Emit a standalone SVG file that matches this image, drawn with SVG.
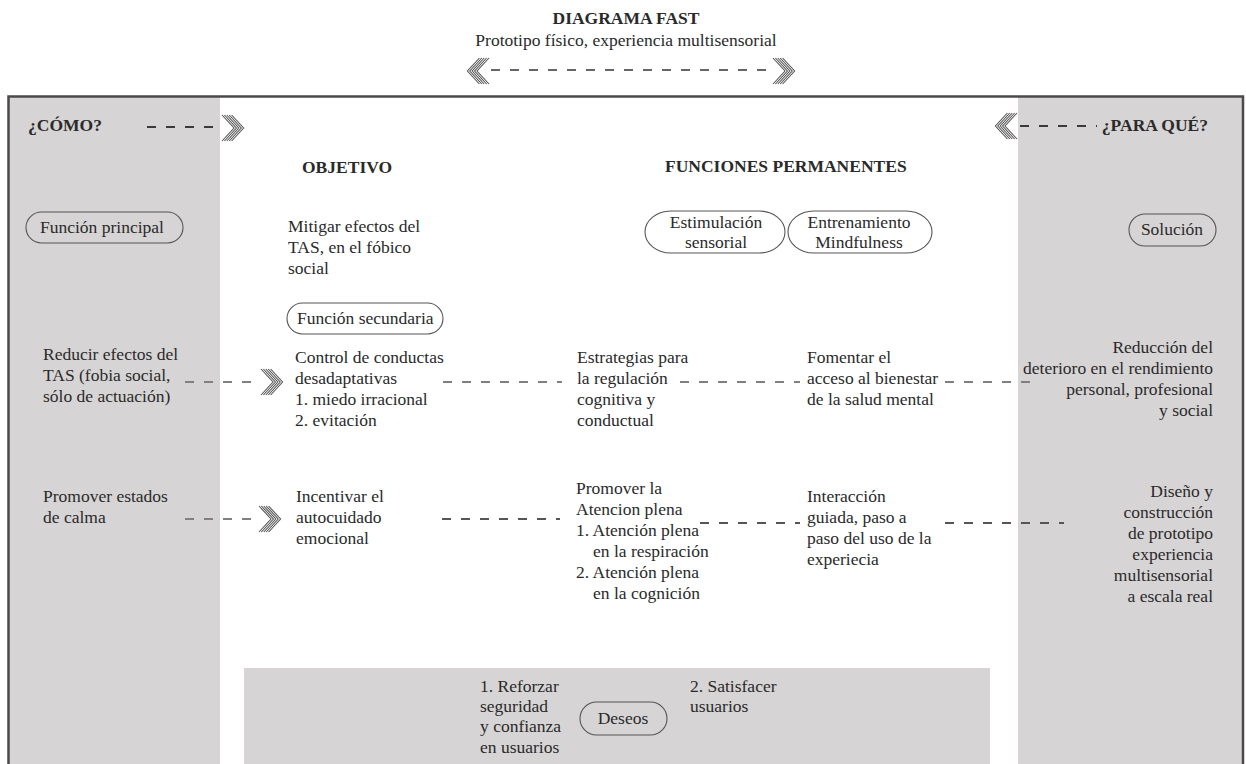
<svg xmlns="http://www.w3.org/2000/svg" width="1246" height="764" viewBox="0 0 1246 764">
<style>
.t{font-family:"Liberation Serif","Times New Roman",serif;font-size:17.5px;fill:#2a2a2a}
.b{font-weight:bold}
.e{text-anchor:end}
.m{text-anchor:middle}
.pill{fill:none;stroke:#555;stroke-width:1.1}
.panel{fill:#d7d4d5}
.dash{stroke:#808080;stroke-width:2;stroke-dasharray:9 10;fill:none}
.dashd{stroke:#3a3a3a;stroke-width:2;stroke-dasharray:9 10;fill:none}
.chev polyline{fill:none;stroke:#555;stroke-width:1.1}
</style>
<defs>
<g id="chevR" class="chev">
<polyline points="0,-13 12,0 0,13"/>
<polyline points="2.4,-13 14.4,0 2.4,13"/>
<polyline points="4.8,-13 16.8,0 4.8,13"/>
<polyline points="7.2,-13 19.2,0 7.2,13"/>
<polyline points="9.6,-13 21.6,0 9.6,13"/>
</g>
</defs>
<rect width="1246" height="764" fill="#ffffff"/>

<g id="header">
<text class="t b m" x="626" y="24">DIAGRAMA FAST</text>
<text class="t m" x="626" y="46">Prototipo físico, experiencia multisensorial</text>
</g>

<g id="frame">
<rect class="panel" x="9" y="96" width="211" height="668"/>
<rect class="panel" x="1018" y="96" width="225" height="668"/>
<rect class="panel" x="244" y="668" width="746" height="96"/>
<path d="M8.5,764 V96.5 H1243 V764" fill="none" stroke="#4a4a4a" stroke-width="2.5"/>
</g>

<g id="connectors">
<line class="dash" x1="491" y1="70" x2="771" y2="70" style="stroke:#666"/>
<use href="#chevR" transform="translate(489,71) scale(-1,1)"/>
<use href="#chevR" transform="translate(773,71)"/>
<line class="dashd" x1="147" y1="127" x2="222" y2="127"/>
<use href="#chevR" transform="translate(222,128)"/>
<line class="dashd" x1="1020" y1="126" x2="1097" y2="126"/>
<use href="#chevR" transform="translate(1017,126) scale(-1,1)"/>
<line class="dash" x1="185" y1="382" x2="258" y2="382"/>
<use href="#chevR" transform="translate(261,382)"/>
<line class="dash" x1="443" y1="382" x2="562" y2="382"/>
<line class="dash" x1="680" y1="382" x2="800" y2="382"/>
<line class="dash" x1="945" y1="382" x2="1040" y2="382"/>
<line class="dash" x1="185" y1="519" x2="256" y2="519"/>
<use href="#chevR" transform="translate(259,519)"/>
<line class="dash" x1="442" y1="519" x2="560" y2="519" style="stroke:#555"/>
<line class="dash" x1="700" y1="523" x2="800" y2="523" style="stroke:#555"/>
<line class="dash" x1="945" y1="523" x2="1064" y2="523" style="stroke:#555"/>
</g>

<g id="como"><text class="t b" x="28" y="131">¿CÓMO?</text></g>
<g id="paraque"><text class="t b e" x="1208" y="131">¿PARA QUÉ?</text></g>
<g id="objetivo"><text class="t b" x="302" y="173">OBJETIVO</text></g>
<g id="funciones-permanentes"><text class="t b" x="665" y="172">FUNCIONES PERMANENTES</text></g>

<g id="funcion-principal">
<rect class="pill" x="26" y="212" width="157" height="31" rx="15.5"/>
<text class="t" x="40" y="233">Función principal</text>
</g>
<g id="mitigar">
<text class="t" x="288" y="232">Mitigar efectos del</text>
<text class="t" x="288" y="253">TAS, en el fóbico</text>
<text class="t" x="288" y="274">social</text>
</g>
<g id="estimulacion">
<rect class="pill" x="645" y="211" width="140" height="42" rx="26" ry="21"/>
<text class="t m" x="716" y="228">Estimulación</text>
<text class="t m" x="716" y="248">sensorial</text>
</g>
<g id="entrenamiento">
<rect class="pill" x="788" y="211" width="144" height="42" rx="26" ry="21"/>
<text class="t m" x="859" y="228">Entrenamiento</text>
<text class="t m" x="859" y="248">Mindfulness</text>
</g>
<g id="solucion">
<rect class="pill" x="1129" y="214" width="87" height="32" rx="16"/>
<text class="t m" x="1172" y="235">Solución</text>
</g>
<g id="funcion-secundaria">
<rect class="pill" x="287" y="303" width="156" height="31" rx="15.5"/>
<text class="t" x="297" y="324">Función secundaria</text>
</g>

<g id="reducir">
<text class="t" x="43" y="360">Reducir efectos del</text>
<text class="t" x="43" y="381">TAS (fobia social,</text>
<text class="t" x="43" y="402">sólo de actuación)</text>
</g>
<g id="control">
<text class="t" x="295" y="363">Control de conductas</text>
<text class="t" x="295" y="384">desadaptativas</text>
<text class="t" x="295" y="405">1. miedo irracional</text>
<text class="t" x="295" y="426">2. evitación</text>
</g>
<g id="estrategias">
<text class="t" x="577" y="363">Estrategias para</text>
<text class="t" x="577" y="384">la regulación</text>
<text class="t" x="577" y="405">cognitiva y</text>
<text class="t" x="577" y="426">conductual</text>
</g>
<g id="fomentar">
<text class="t" x="807" y="363">Fomentar el</text>
<text class="t" x="807" y="384">acceso al bienestar</text>
<text class="t" x="807" y="405">de la salud mental</text>
</g>
<g id="reduccion">
<text class="t e" x="1213" y="353">Reducción del</text>
<text class="t e" x="1213" y="374">deterioro en el rendimiento</text>
<text class="t e" x="1213" y="395">personal, profesional</text>
<text class="t e" x="1213" y="416">y social</text>
</g>

<g id="promover-calma">
<text class="t" x="43" y="502">Promover estados</text>
<text class="t" x="43" y="523">de calma</text>
</g>
<g id="incentivar">
<text class="t" x="296" y="502">Incentivar el</text>
<text class="t" x="296" y="523">autocuidado</text>
<text class="t" x="296" y="544">emocional</text>
</g>
<g id="atencion">
<text class="t" x="576" y="494">Promover la</text>
<text class="t" x="576" y="515">Atencion plena</text>
<text class="t" x="576" y="536">1. Atención plena</text>
<text class="t" x="593" y="557">en la respiración</text>
<text class="t" x="576" y="578">2. Atención plena</text>
<text class="t" x="593" y="599">en la cognición</text>
</g>
<g id="interaccion">
<text class="t" x="807" y="502">Interacción</text>
<text class="t" x="807" y="523">guiada, paso a</text>
<text class="t" x="807" y="544">paso del uso de la</text>
<text class="t" x="807" y="565">experiecia</text>
</g>
<g id="diseno">
<text class="t e" x="1213" y="497">Diseño y</text>
<text class="t e" x="1213" y="518">construcción</text>
<text class="t e" x="1213" y="539">de prototipo</text>
<text class="t e" x="1213" y="560">experiencia</text>
<text class="t e" x="1213" y="581">multisensorial</text>
<text class="t e" x="1213" y="602">a escala real</text>
</g>

<g id="reforzar">
<text class="t" x="480" y="692">1. Reforzar</text>
<text class="t" x="480" y="712">seguridad</text>
<text class="t" x="480" y="732">y confianza</text>
<text class="t" x="480" y="753">en usuarios</text>
</g>
<g id="deseos">
<rect class="pill" x="580" y="702" width="87" height="33" rx="16.5"/>
<text class="t m" x="623" y="724">Deseos</text>
</g>
<g id="satisfacer">
<text class="t" x="690" y="692">2. Satisfacer</text>
<text class="t" x="690" y="712">usuarios</text>
</g>
</svg>
